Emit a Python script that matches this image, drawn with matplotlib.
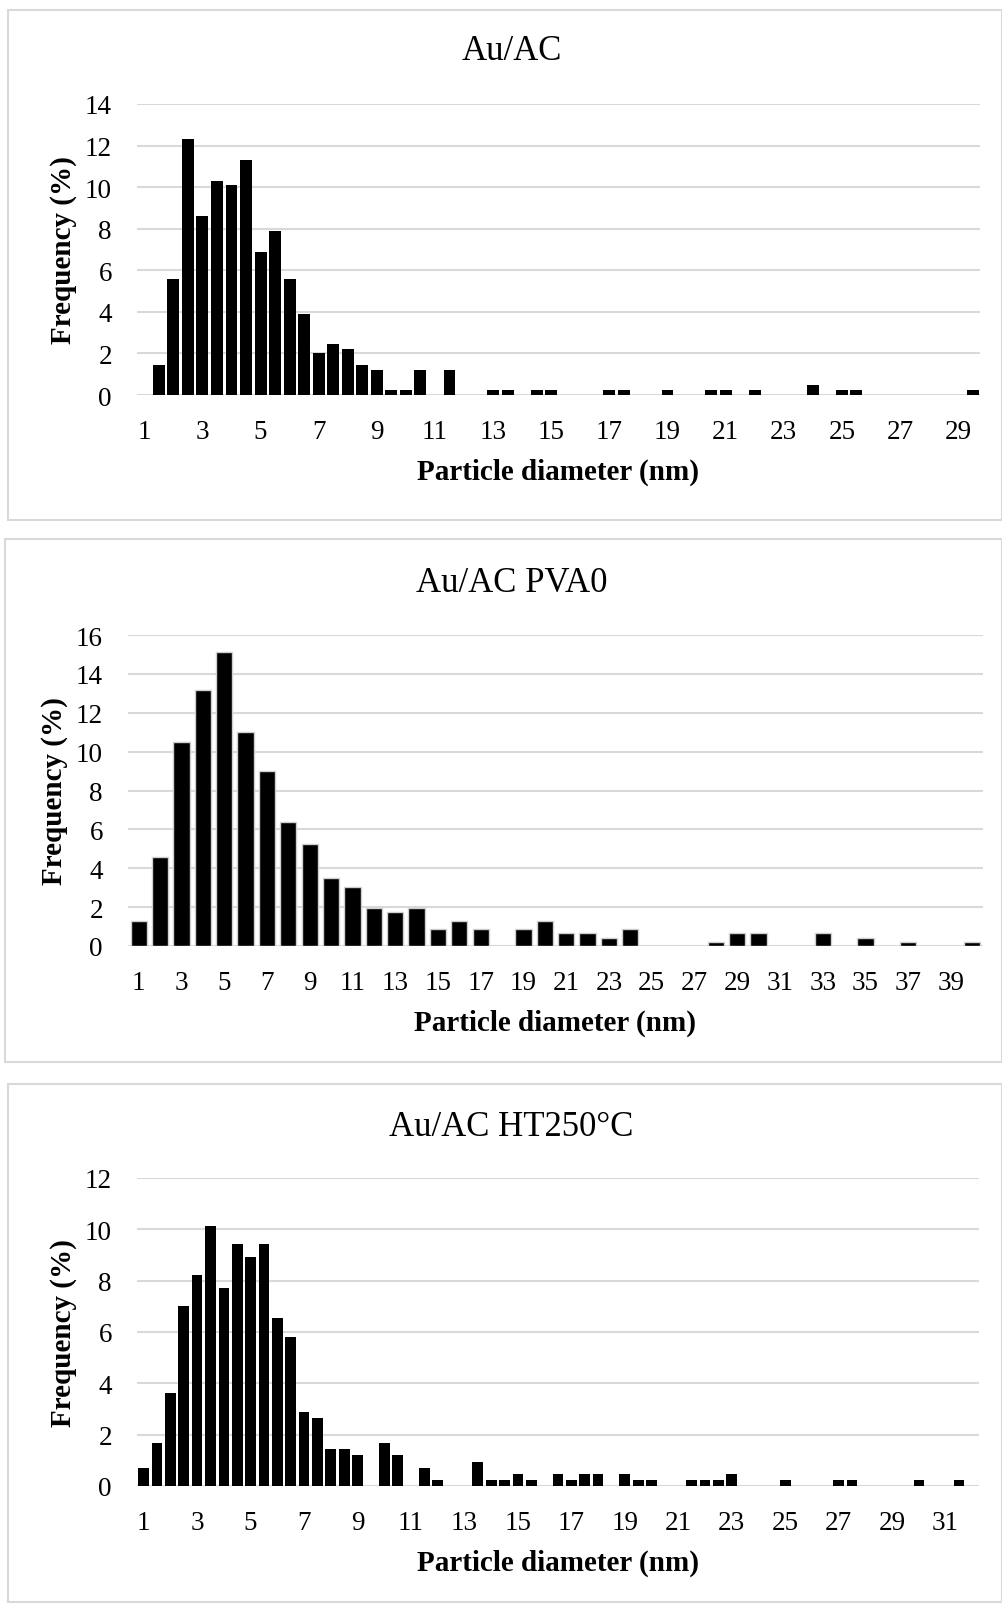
import numpy as np
import matplotlib
matplotlib.use("Agg")
import matplotlib.pyplot as plt
from matplotlib.patches import Rectangle

plt.rcParams['font.family'] = ['Liberation Serif', 'DejaVu Serif']

# bins (nm) and frequencies (%)
bins_ac = np.arange(1.0, 30.0, 0.5)
freq_ac = [0, 1.45, 5.6, 12.3, 8.6, 10.3, 10.1, 11.3, 6.9, 7.9,
           5.6, 3.9, 2.0, 2.45, 2.2, 1.45, 1.2, 0.25, 0.25, 1.2,
           0, 1.2, 0, 0, 0.25, 0.25, 0, 0.25, 0.25, 0,
           0, 0, 0.25, 0.25, 0, 0, 0.25, 0, 0, 0.25,
           0.25, 0, 0.25, 0, 0, 0, 0.5, 0, 0.25, 0.25,
           0, 0, 0, 0, 0, 0, 0, 0.25]

bins_pva = np.arange(1, 41, 1)
freq_pva = [1.3, 4.6, 10.5, 13.15, 15.1, 11.0, 9.0, 6.4, 5.25, 3.5,
            3.05, 1.95, 1.75, 1.95, 0.85, 1.3, 0.85, 0, 0.85, 1.3,
            0.65, 0.65, 0.43, 0.85, 0, 0, 0, 0.22, 0.65, 0.65,
            0, 0, 0.65, 0, 0.43, 0, 0.22, 0, 0, 0.22]

bins_ht = np.arange(1.0, 32.5, 0.5)
freq_ht = [0.72, 1.69, 3.61, 7.0, 8.22, 10.14, 7.71, 9.41, 8.93, 9.41,
           6.53, 5.79, 2.89, 2.63, 1.43, 1.43, 1.2, 0, 1.66, 1.2,
           0, 0.72, 0.22, 0, 0, 0.95, 0.22, 0.22, 0.47, 0.22,
           0, 0.47, 0.22, 0.47, 0.47, 0, 0.47, 0.22, 0.22, 0,
           0, 0.22, 0.22, 0.22, 0.47, 0, 0, 0, 0.22, 0,
           0, 0, 0.22, 0.22, 0, 0, 0, 0, 0.22, 0,
           0, 0.22, 0]

W, H = 1003, 1606
fig = plt.figure(figsize=(W / 100, H / 100), dpi=100)

def px_axes(left, right, top, bottom):
    return fig.add_axes([left / W, 1 - bottom / H, (right - left) / W, (bottom - top) / H])

def frame(x0, y0, x1, y1):
    fig.add_artist(Rectangle((x0 / W, 1 - y1 / H), (x1 - x0) / W, (y1 - y0) / H,
                             transform=fig.transFigure, fill=False,
                             edgecolor='#d9d9d9', linewidth=1.5))

def panel(ax, bins, freq, ymax, step, label_every, width, edge, title, title_y):
    x = np.arange(len(bins))
    ax.bar(x, freq, width=width, color='black',
           edgecolor=edge if edge else 'none', linewidth=1 if edge else 0, zorder=3)
    ax.set_xlim(-0.5, len(bins) - 0.5)
    ax.set_ylim(0, ymax)
    ax.set_yticks(np.arange(0, ymax + 0.1, step))
    ax.set_yticklabels([str(int(v)) for v in np.arange(0, ymax + 0.1, step)])
    ax.set_xticks(x[::label_every])
    ax.set_xticklabels([f"{b:g}" for b in bins[::label_every]])
    ax.grid(axis='y', color='#d9d9d9', linewidth=1.5, zorder=0)
    for s in ax.spines.values():
        s.set_visible(False)
    ax.tick_params(length=0, labelsize=19.5)
    ax.tick_params(axis='x', pad=17)
    ax.tick_params(axis='y', pad=18)
    ax.set_xlabel('Particle diameter (nm)', fontsize=21, fontweight='bold', labelpad=10)
    ax.set_ylabel('Frequency (%)', fontsize=21, fontweight='bold', labelpad=6)
    fig.text(0.51, 1 - title_y / H, title, fontsize=25, ha='center', va='center')

frame(8, 11, 1002, 521)
frame(5, 540, 1002, 1063)
frame(8, 1085, 1002, 1603)

ax1 = px_axes(137, 980, 105, 396)
panel(ax1, bins_ac, freq_ac, 14, 2, 4, 0.82, None, 'Au/AC', 51)

ax2 = px_axes(128, 983, 636, 947)
panel(ax2, bins_pva, freq_pva, 16, 2, 2, 0.76, '#cfcfcf', 'Au/AC PVA0', 584)

ax3 = px_axes(137, 979, 1179, 1487)
panel(ax3, bins_ht, freq_ht, 12, 2, 4, 0.8, None, 'Au/AC HT250°C', 1127)

fig.savefig('out.png', dpi=100)
